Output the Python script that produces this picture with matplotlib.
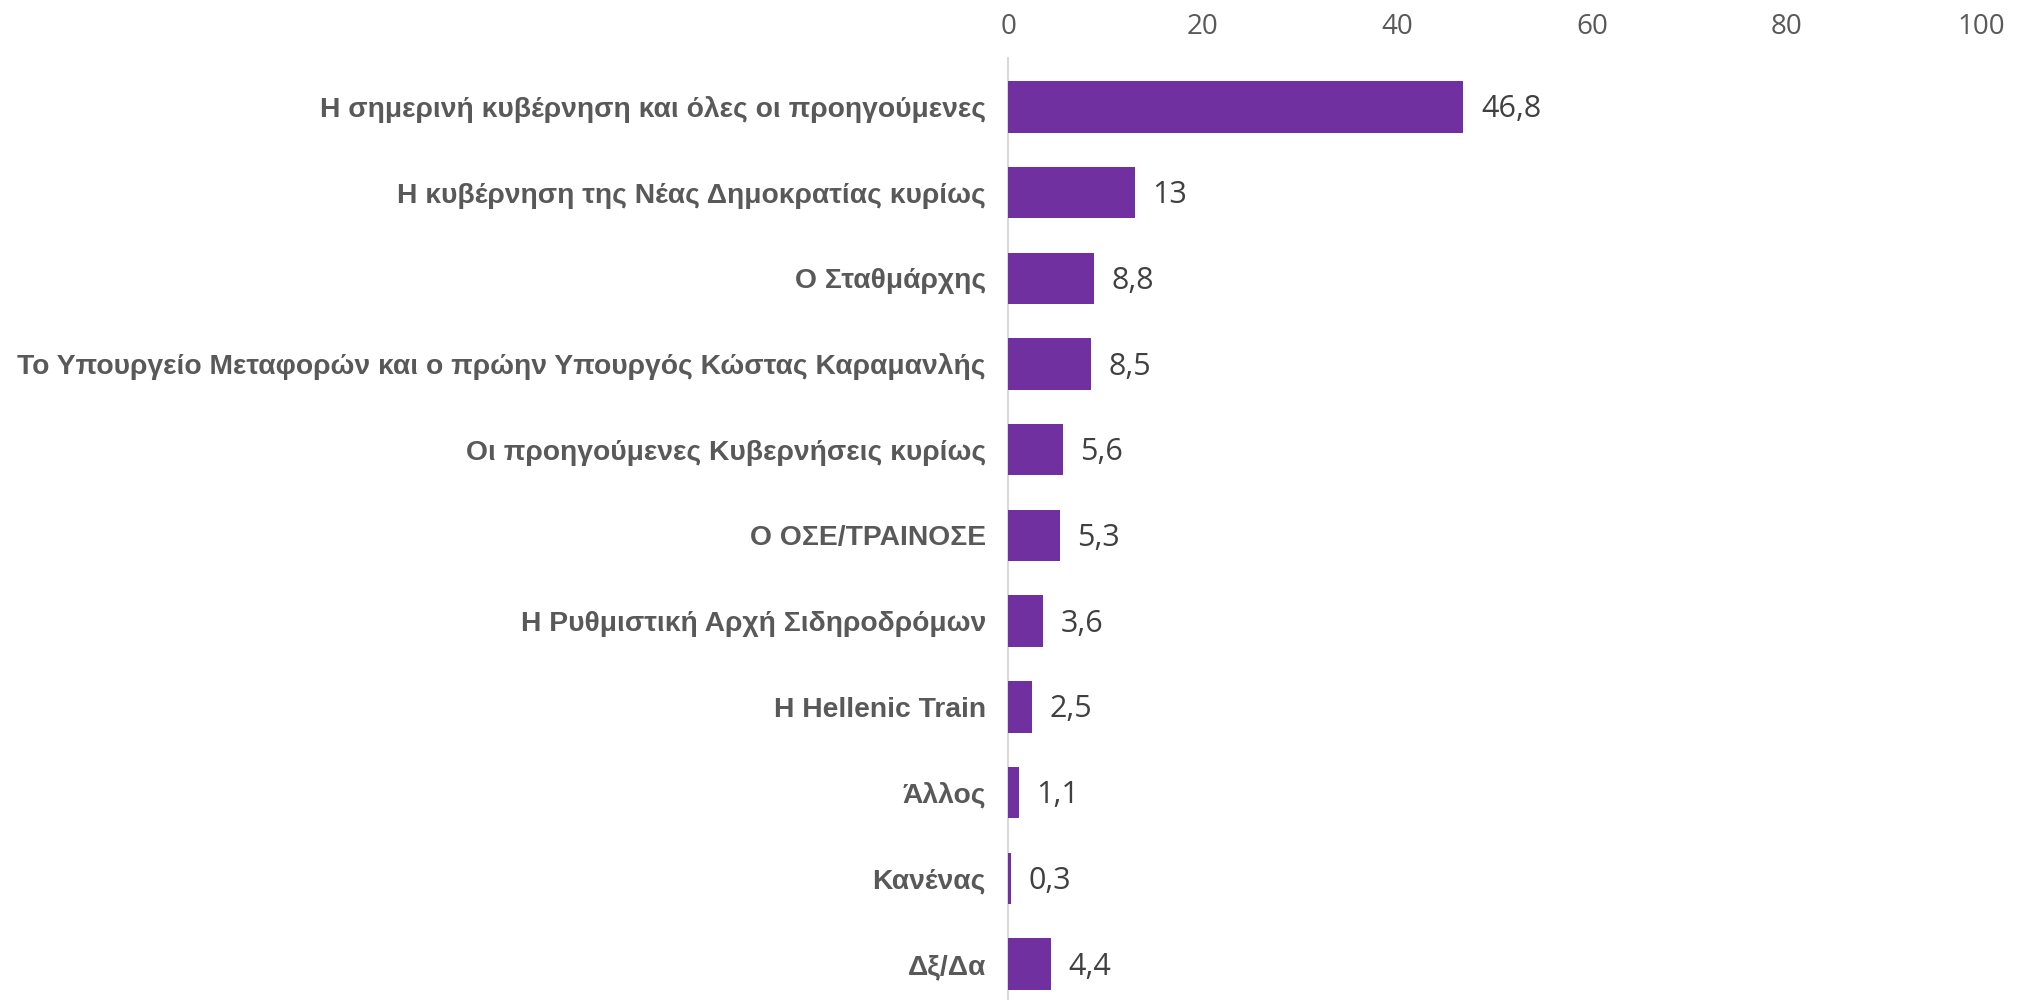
import matplotlib
matplotlib.use("Agg")
import matplotlib.pyplot as plt

categories = [
    "Η σημερινή κυβέρνηση και όλες οι προηγούμενες",
    "Η κυβέρνηση της Νέας Δημοκρατίας κυρίως",
    "Ο Σταθμάρχης",
    "Το Υπουργείο Μεταφορών και ο πρώην Υπουργός Κώστας Καραμανλής",
    "Οι προηγούμενες Κυβερνήσεις κυρίως",
    "Ο ΟΣΕ/ΤΡΑΙΝΟΣΕ",
    "Η Ρυθμιστική Αρχή Σιδηροδρόμων",
    "Η Hellenic Train",
    "Άλλος",
    "Κανένας",
    "Δξ/Δα",
]
values = [46.8, 13, 8.8, 8.5, 5.6, 5.3, 3.6, 2.5, 1.1, 0.3, 4.4]
value_labels = ["46,8", "13", "8,8", "8,5", "5,6", "5,3", "3,6", "2,5", "1,1", "0,3", "4,4"]
xticks = [0, 20, 40, 60, 80, 100]

fig = plt.figure(figsize=(20.17, 10), dpi=100)
ax = fig.add_axes([0.4998, 0.0, 0.9822 - 0.4998, 0.942])

ypos = list(range(len(categories)))
ax.barh(ypos, values, height=0.6, color="#7030A0", zorder=3)

for y, v, lab in zip(ypos, values, value_labels):
    ax.text(v + 1.8, y + 0.03, lab, va="center", ha="left", fontsize=22,
            family="Open Sans", color="#404040")

ax.set_xlim(0, 100)
ax.set_ylim(10.42, -0.57)
ax.set_yticks(ypos)
ax.set_yticklabels(categories, fontsize=20.3, fontweight="bold",
                   family="Liberation Sans", color="#595959")
ax.set_xticks(xticks)
ax.set_xticklabels([str(t) for t in xticks], fontsize=20, family="Open Sans", color="#595959")
ax.xaxis.tick_top()
ax.tick_params(axis="x", length=0, pad=12)
ax.tick_params(axis="y", length=0, pad=16)

for s in ["top", "right", "bottom"]:
    ax.spines[s].set_visible(False)
ax.spines["left"].set_color("#d9d9d9")
ax.spines["left"].set_linewidth(1.5)

fig.savefig("out.png", dpi=100)
